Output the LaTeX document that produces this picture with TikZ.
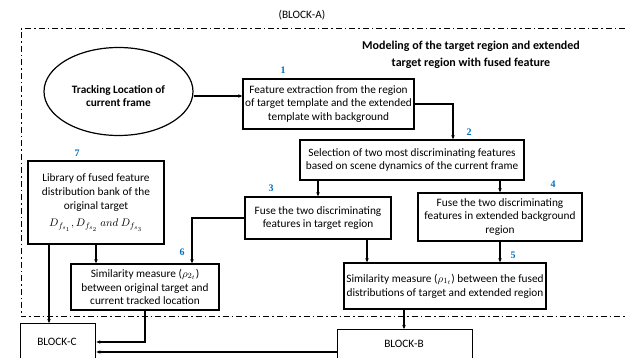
\documentclass[tikz,border=0pt]{standalone}
\usepackage{fontspec}
\setmainfont{Carlito}
\newfontfamily\numfont{Liberation Serif}
\usetikzlibrary{shapes.geometric,arrows.meta}
\definecolor{numblue}{RGB}{0,112,192}
\begin{document}
\begin{tikzpicture}[x=1pt,y=-1pt,
  blk/.style={draw, line width=1.4pt, align=center, inner sep=0pt,
    font=\fontsize{11.3}{13.8}\selectfont},
  txt/.style={align=center, inner sep=0pt, font=\fontsize{11.3}{13.8}\selectfont},
  num/.style={text=numblue, inner sep=0pt, font=\numfont\bfseries\fontsize{10}{10}\selectfont},
  arr/.style={line width=1.1pt, -{Stealth[length=4pt,width=3.5pt]}},
  border/.style={line width=1pt, dash pattern=on 6pt off 3pt on 1.5pt off 3pt}]
\useasboundingbox (0,0) rectangle (625,358);
\clip (0,0) rectangle (625,358);

% titles
\node[txt] (blkA) at (302,15) {(BLOCK-A)};
\node[txt, font=\bfseries\fontsize{12}{17}\selectfont] (head) at (471,54.5)
  {Modeling of the target region and extended\\target region with fused feature};

% dash-dot frame of block A
\draw[border] (625,29) -- (21,29) -- (21,317) -- (625,317);

% tracking location
\node[draw, ellipse, line width=1.2pt, minimum width=149pt, minimum height=88pt,
  inner sep=0pt] (ell) at (118.5,91.5) {};
\node[txt, font=\bfseries\fontsize{11.3}{13.8}\selectfont] (elltext) at (118.5,96)
  {Tracking Location of\\current frame};

% processing boxes
\node[blk, minimum width=171pt, minimum height=50pt] (b1) at (328.5,104)
  {Feature extraction from the region\\of target template and the extended\\template with background};
\node[blk, minimum width=224pt, minimum height=40pt] (b2) at (412,160)
  {Selection of two most discriminating features\\based on scene dynamics of the current frame};
\node[blk, minimum width=146pt, minimum height=42pt] (b3) at (318,218)
  {Fuse the two discriminating\\features in target region};
\node[blk, minimum width=164pt, minimum height=48pt] (b4) at (500,217)
  {Fuse the two discriminating\\features in extended background\\region};
\node[blk, minimum width=202pt, minimum height=46pt] (b5) at (445,286)
  {Similarity measure ($\rho_{1_t}$) between the fused\\distributions of target and extended region};
\node[blk, minimum width=148pt, minimum height=46pt] (b6) at (145,287)
  {Similarity measure ($\rho_{2_t}$)\\between original target and\\current tracked location};
\node[blk, minimum width=136pt, minimum height=83pt] (b7) at (96,202.5)
  {Library of fused feature\\distribution bank of the\\original target\\[4pt]
   $D_{f_{s_1}}, D_{f_{s_2}}\ and\ D_{f_{s_3}}$};

% blocks B and C
\node[blk, anchor=north west, minimum width=75pt, minimum height=60pt] (bc) at (20,323) {};
\node[txt] (bctext) at (57,342) {BLOCK-C};
\node[blk, anchor=north west, minimum width=135pt, minimum height=50pt] (bb) at (337,329) {};
\node[txt] (bbtext) at (404,344) {BLOCK-B};

% step numbers
\node[num] (n1) at (283,70) {1};
\node[num] (n2) at (469,132) {2};
\node[num] (n3) at (271,188) {3};
\node[num] (n4) at (553,184) {4};
\node[num] (n5) at (513,255) {5};
\node[num] (n6) at (182,252) {6};
\node[num] (n7) at (77,153) {7};

% connectors
\draw[arr] (ell.east |- 0,96) -- (b1.west |- 0,96);
\draw[arr] (b1.east) -| ([xshift=41pt]b2.north);
\draw[arr] (b2.south -| b3.north) -- (b3.north);
\draw[arr] (b2.south -| b4.north) -- (b4.north);
\draw[arr] (b3.south -| 367,0) -- (b5.north -| 367,0);
\draw[arr] (b4.south) -- (b5.north -| b4.south);
\draw[arr] (b3.west) -| (b6.north -| 192,0);
\draw[arr] (b7.south -| 96,0) -- (b6.north -| 96,0);
\draw[arr] (b7.south -| 49,0) -- (bc.north -| 49,0);
\draw[arr] (b6.south) |- (bc.east |- 0,342);
\draw[arr] (bb.west |- 0,352) -- (bc.east |- 0,352);
\draw[arr] (b5.south -| 404,0) -- (bb.north -| 404,0);
\end{tikzpicture}
\end{document}
